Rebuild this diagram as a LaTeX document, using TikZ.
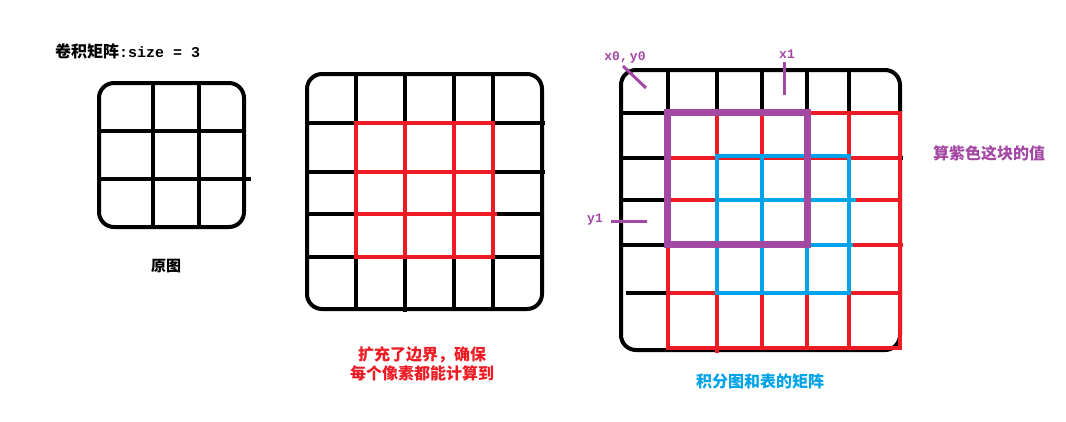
\documentclass[tikz,border=0pt]{standalone}
\usepackage{fontspec}
\newfontfamily\cjk{Noto Sans CJK SC}
\newfontfamily\mono{Liberation Mono}
\definecolor{pred}{HTML}{ED1C24}
\definecolor{pblue}{HTML}{00A2E8}
\definecolor{ppurple}{HTML}{A349A4}
\tikzset{
  blk/.style={line width=4pt, black},
  redl/.style={line width=4pt, pred},
  bluel/.style={line width=4pt, pblue},
  purl/.style={line width=7pt, ppurple},
  anno/.style={line width=3pt, ppurple},
  lbl/.style={inner sep=0pt, font=\cjk\bfseries\fontsize{16}{19}\selectfont},
  annolbl/.style={inner sep=0pt, text=ppurple, font=\mono\bfseries\fontsize{13}{15}\selectfont}
}
\begin{document}
\begin{tikzpicture}[x=1pt,y=-1pt]
\useasboundingbox (0,0) rectangle (1066,421);

% ---------- title ----------
\node[lbl, anchor=west] (title) at (55,51) {卷积矩阵{\mono\bfseries\fontsize{15}{17}\selectfont :size = 3}};

% ---------- left grid (original) ----------
\draw[blk, rounded corners=15pt] (99,83) rectangle (244,227);
\draw[blk] (153,83) -- (153,227) (199,83) -- (199,227);
\draw[blk] (99,131) -- (244,131) (99,179) -- (251,179);
\node[lbl, font=\cjk\bfseries\fontsize{15}{18}\selectfont] (orig) at (166,266) {原图};

% ---------- middle grid (padded) ----------
\draw[blk, rounded corners=15pt] (307,74) rectangle (542,309);
\draw[blk] (356,74) -- (356,309) (405,74) -- (405,312) (454,74) -- (454,309) (493,74) -- (493,309);
\draw[blk] (307,123) -- (545,123) (307,172) -- (545,172) (307,214) -- (542,214) (305,257) -- (542,257);
\draw[redl] (356,123) rectangle (493,257);
\draw[redl] (405,123) -- (405,257) (454,123) -- (454,257);
\draw[redl] (356,172) -- (493,172) (356,214) -- (497,214);
\node[lbl, text=pred, align=center] (padtxt) at (422,364) {扩充了边界，确保\\每个像素都能计算到};

% ---------- right grid (integral image) ----------
\draw[blk, rounded corners=15pt] (621,70) rectangle (900,350);
\draw[blk] (668,70) -- (668,350) (717,70) -- (717,350) (762,70) -- (762,350) (807,70) -- (807,350) (849,70) -- (849,350);
\draw[blk] (621,113) -- (900,113) (621,158) -- (903,158) (623,200) -- (900,200) (621,245) -- (900,245) (626,293) -- (900,293);
% red
\draw[redl] (668,113) -- (900,113) -- (900,348) -- (668,348) -- cycle;
\draw[redl] (717,113) -- (717,353) (762,113) -- (762,348) (807,113) -- (807,348) (849,113) -- (849,348);
\draw[redl] (668,158) -- (900,158) (668,200) -- (900,200) (668,245) -- (903,245) (668,293) -- (900,293);
% blue
\draw[bluel] (717,156) rectangle (849,293);
\draw[bluel] (762,156) -- (762,293) (807,156) -- (807,293);
\draw[bluel] (717,200) -- (856,200) (717,245) -- (853,245);
% purple
\draw[purl] (667,112) rectangle (807,244);

% annotations
\node[annolbl] (x0y0) at (625,57) {x0,\,y0};
\node[annolbl] (x1) at (787,54) {x1};
\node[annolbl] (y1) at (595,220) {y1};
\coordinate (x0y0tip) at (646,88);
\coordinate (x1tip) at (784,95);
\coordinate (y1tip) at (647,221);
\draw[anno] (623,66) -- (x0y0tip);
\draw[anno] (784,62) -- (x1tip);
\draw[anno] (611,221) -- (y1tip);

\node[lbl, text=ppurple] (purtxt) at (989,153) {算紫色这块的值};
\node[lbl, text=pblue] (bluetxt) at (760,381) {积分图和表的矩阵};
\end{tikzpicture}
\end{document}
